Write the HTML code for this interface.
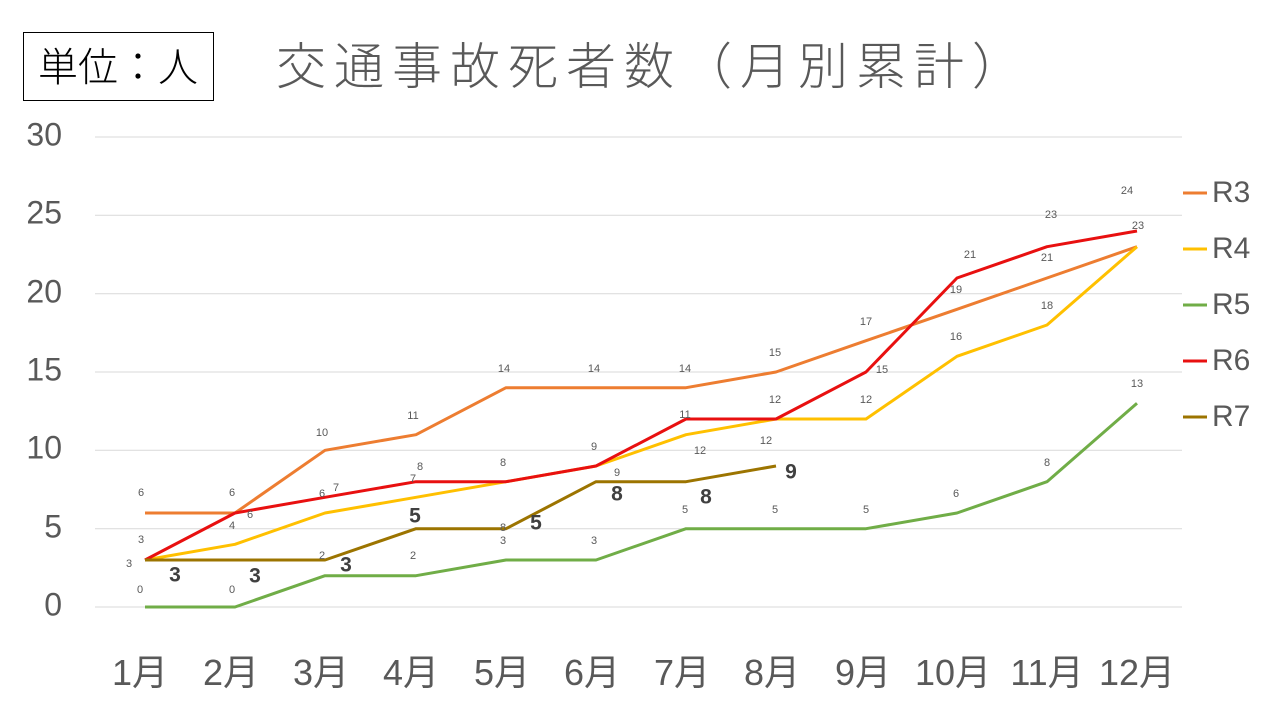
<!DOCTYPE html>
<html><head><meta charset="utf-8"><style>
html,body{margin:0;padding:0;background:#fff;}
svg{display:block;font-family:"Liberation Sans","Noto Sans CJK JP",sans-serif;}
</style></head><body>
<svg width="1280" height="720" viewBox="0 0 1280 720" xmlns="http://www.w3.org/2000/svg">
<rect x="23.5" y="32.5" width="190" height="68" fill="#fff" stroke="#000" stroke-width="1"/>
<text x="118" y="81" font-size="40" text-anchor="middle" fill="#000" font-weight="300">単位：人</text>
<text x="276" y="84" font-size="50" letter-spacing="8" fill="#595959" font-weight="300">交通事故死者数（月別累計）</text>
<g stroke="#d9d9d9" stroke-width="1">
<line x1="95" x2="1182" y1="137" y2="137"/><line x1="95" x2="1182" y1="215.3" y2="215.3"/>
<line x1="95" x2="1182" y1="293.7" y2="293.7"/><line x1="95" x2="1182" y1="372" y2="372"/>
<line x1="95" x2="1182" y1="450.3" y2="450.3"/><line x1="95" x2="1182" y1="528.7" y2="528.7"/>
<line x1="95" x2="1182" y1="607" y2="607"/>
</g>
<g font-size="32" fill="#595959" text-anchor="end" dominant-baseline="middle">
<text x="62" y="137">30</text><text x="62" y="215">25</text><text x="62" y="294">20</text>
<text x="62" y="372">15</text><text x="62" y="450">10</text><text x="62" y="529">5</text><text x="62" y="607">0</text>
</g>
<g font-size="36" fill="#595959" text-anchor="middle">
<text x="140" y="685">1月</text><text x="231" y="685">2月</text><text x="321" y="685">3月</text>
<text x="411" y="685">4月</text><text x="502" y="685">5月</text><text x="592" y="685">6月</text>
<text x="682" y="685">7月</text><text x="772" y="685">8月</text><text x="863" y="685">9月</text>
<text x="953" y="685">10月</text><text x="1047" y="685">11月</text><text x="1137" y="685">12月</text>
</g>
<g fill="none" stroke-width="3" stroke-linejoin="round">
<polyline stroke="#ED7D31" points="145,513 235,513 325,450.3 416,434.7 506,387.7 596,387.7 686,387.7 776,372 866,340.7 957,309.3 1047,278 1137,246.7"/>
<polyline stroke="#FFC000" points="145,560 235,544.3 325,513 416,497.3 506,481.7 596,466 686,434.7 776,419 866,419 957,356.3 1047,325 1137,246.7"/>
<polyline stroke="#70AD47" points="145,607 235,607 325,575.7 416,575.7 506,560 596,560 686,528.7 776,528.7 866,528.7 957,513 1047,481.7 1137,403.3"/>
<polyline stroke="#E81010" points="145,560 235,513 325,497.3 416,481.7 506,481.7 596,466 686,419 776,419 866,372 957,278 1047,246.7 1137,231"/>
<polyline stroke="#9C7400" points="145,560 235,560 325,560 416,528.7 506,528.7 596,481.7 686,481.7 776,466"/>
</g>
<g font-size="11" fill="#595959" text-anchor="middle" dominant-baseline="middle">
<text x="141" y="493">6</text><text x="232" y="493">6</text><text x="141" y="540">3</text><text x="129" y="564">3</text>
<text x="140" y="590">0</text><text x="232" y="526">4</text><text x="232" y="590">0</text><text x="250" y="515">6</text>
<text x="322" y="433">10</text><text x="322" y="494">6</text><text x="336" y="488">7</text><text x="322" y="556">2</text>
<text x="413" y="416">11</text><text x="420" y="467">8</text><text x="413" y="479">7</text><text x="413" y="556">2</text>
<text x="504" y="369">14</text><text x="503" y="463">8</text><text x="503" y="528">8</text><text x="503" y="541">3</text>
<text x="594" y="369">14</text><text x="594" y="447">9</text><text x="617" y="473">9</text><text x="594" y="541">3</text>
<text x="685" y="369">14</text><text x="685" y="415">11</text><text x="700" y="451">12</text><text x="685" y="510">5</text>
<text x="775" y="353">15</text><text x="775" y="400">12</text><text x="766" y="441">12</text><text x="775" y="510">5</text>
<text x="866" y="322">17</text><text x="882" y="370">15</text><text x="866" y="400">12</text><text x="866" y="510">5</text>
<text x="956" y="290">19</text><text x="970" y="255">21</text><text x="956" y="337">16</text><text x="956" y="494">6</text>
<text x="1047" y="258">21</text><text x="1051" y="215">23</text><text x="1047" y="306">18</text><text x="1047" y="463">8</text>
<text x="1127" y="191">24</text><text x="1138" y="226">23</text><text x="1137" y="384">13</text>
</g>
<g font-size="21" font-weight="bold" fill="#404040" text-anchor="middle" dominant-baseline="middle">
<text x="175" y="576">3</text><text x="255" y="577">3</text><text x="346" y="566">3</text><text x="415" y="517">5</text>
<text x="536" y="524">5</text><text x="617" y="495">8</text><text x="706" y="498">8</text><text x="791" y="473">9</text>
</g>
<g stroke-width="3">
<line x1="1183" x2="1207" y1="193" y2="193" stroke="#ED7D31"/>
<line x1="1183" x2="1207" y1="249" y2="249" stroke="#FFC000"/>
<line x1="1183" x2="1207" y1="305" y2="305" stroke="#70AD47"/>
<line x1="1183" x2="1207" y1="361" y2="361" stroke="#E81010"/>
<line x1="1183" x2="1207" y1="417" y2="417" stroke="#9C7400"/>
</g>
<g font-size="30" fill="#595959" dominant-baseline="middle">
<text x="1212" y="194">R3</text><text x="1212" y="250">R4</text><text x="1212" y="306">R5</text>
<text x="1212" y="362">R6</text><text x="1212" y="418">R7</text>
</g>
</svg>
</body></html>
